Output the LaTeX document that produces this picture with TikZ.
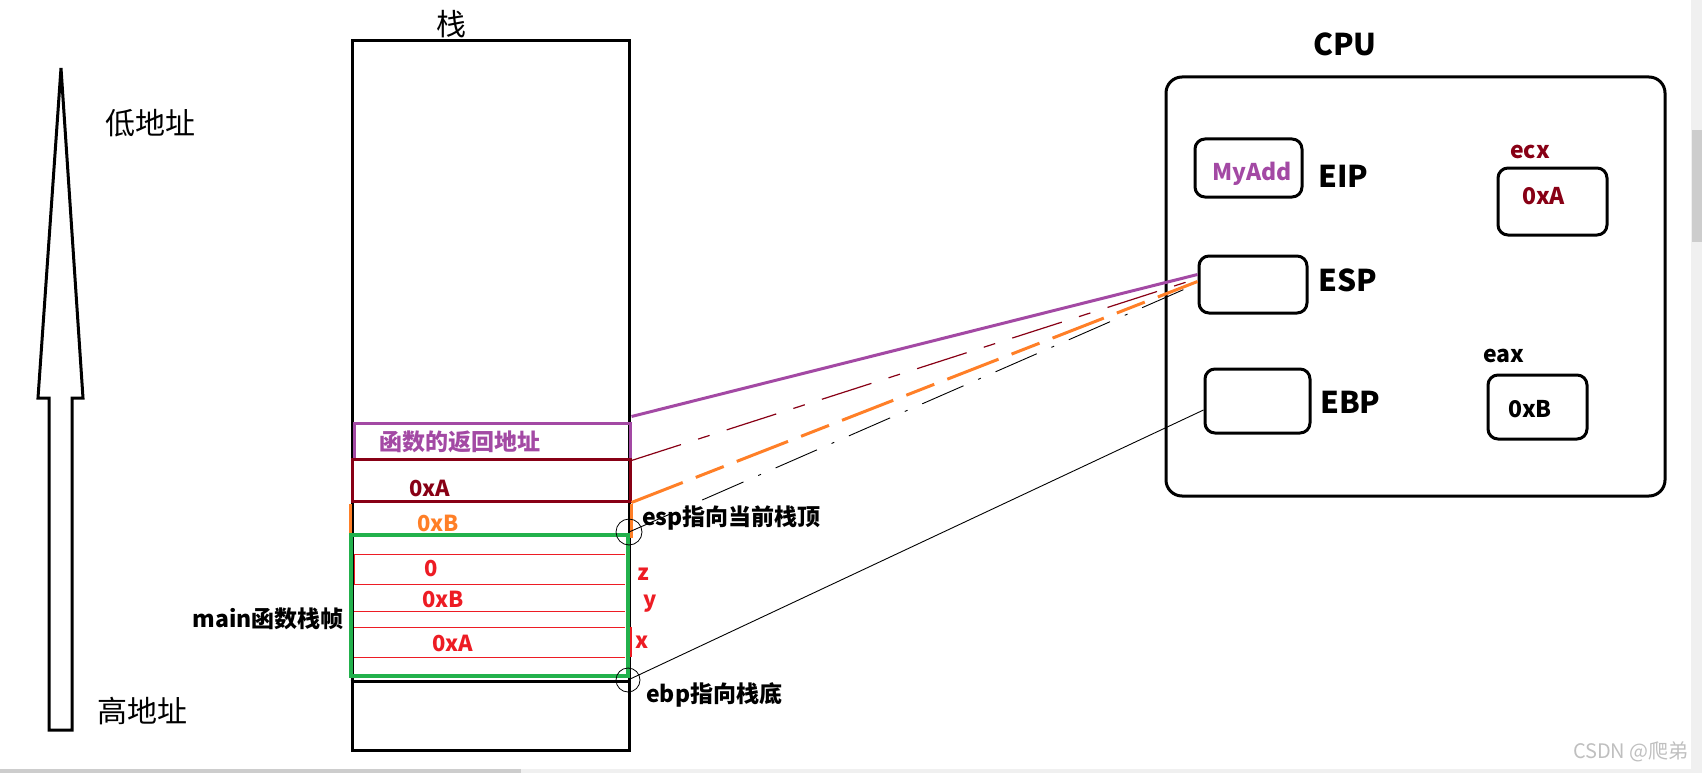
\documentclass[tikz,border=0pt]{standalone}
\usepackage{fontspec}
\setmainfont{Noto Sans CJK SC}
\usetikzlibrary{calc}
\definecolor{ppl}{HTML}{A349A4}
\definecolor{drd}{HTML}{880015}
\definecolor{org}{HTML}{FF7F27}
\definecolor{grn}{HTML}{22B14C}
\definecolor{rd}{HTML}{ED1C24}
\definecolor{sbar}{HTML}{F0F0F0}
\definecolor{sthumb}{HTML}{CDCDCD}
\begin{document}
\begin{tikzpicture}[x=1pt,y=-1pt,
  txt/.style={inner sep=0pt, anchor=base west, font=\fontsize{#1}{#1}\selectfont\bfseries},
  ctxt/.style={inner sep=0pt, anchor=center, font=\fontsize{#1}{#1}\selectfont},
  reg/.style={draw, line width=3pt, rounded corners=10pt, inner sep=0pt},
  cell/.style={draw, inner sep=0pt, line width=3pt},
  ringmark/.style={draw, circle, line width=0.8pt, inner sep=0pt},
]
\useasboundingbox (0,0) rectangle (1702,773);
% window chrome
\fill[sbar] (0,769) rectangle (1691,773);
\fill[sthumb] (0,769) rectangle (521,773);
\fill[sbar] (1691,0) rectangle (1702,773);
\fill[sthumb] (1692,130) rectangle (1702,242);
\node[ctxt=20, text=black!25, anchor=base east] (wm) at (1689,758) {CSDN @爬弟};

% address arrow
\draw[line width=3pt, line join=miter] (49,730) -- (49,398) -- (38,398) -- (61,68) -- (83,398) -- (72,398) -- (72,730) -- cycle;
\node[ctxt=30] (low) at (150,123) {低地址};
\node[ctxt=30] (high) at (142,711) {高地址};

% stack
\node[cell, minimum width=277pt, minimum height=709pt] (stack) at (490.5,395.5) {};
\node[ctxt=30] (stacklbl) at (451,24) {栈};
\draw[line width=3pt] (stack.west |- 0,681) -- (stack.east |- 0,681);

\node[cell, draw=ppl, minimum width=276pt, minimum height=36pt] (ret) at (492,441) {};
\node[cell, draw=drd, minimum width=278pt, minimum height=42pt] (sa) at (491,480) {};
\draw[org, line width=3pt] ([yshift=-1.5pt]sa.south west) -- ++(0,34);
\draw[org, line width=3pt] ([yshift=-1.5pt]sa.south east) -- ++(0,34);

% red rows
\draw[rd, line width=1pt] (354,584) -- (354,554) -- (625,554);
\foreach \yy in {584,611,627,657} \draw[rd, line width=1pt] (354,\yy) -- (625,\yy);
\draw[rd, line width=2pt] (631,627) -- (631,657);

\node[draw=grn, line width=4pt, inner sep=0pt, minimum width=277pt, minimum height=141pt] (main) at (489.5,605.5) {};

\node[txt=23, text=ppl] (rett) at (379,450) {函数的返回地址};
\node[txt=22, text=drd] (sat) at (409,496) {0xA};
\node[txt=22, text=org] (sbt) at (417,531) {0xB};
\node[txt=22, text=rd] (zt) at (424,576) {0};
\node[txt=22, text=rd] (yt) at (422,607) {0xB};
\node[txt=22, text=rd] (xt) at (432,651) {0xA};
\node[txt=22, text=rd] (zl) at (637,580) {z};
\node[txt=22, text=rd] (yl) at (643,607) {y};
\node[txt=22, text=rd] (xl) at (635,648) {x};
\node[txt=23, anchor=base east] (mainl) at (344,627) {main函数栈帧};
\node[txt=23] (espl) at (642,525) {esp指向当前栈顶};
\node[txt=23] (ebpl) at (646,702) {ebp指向栈底};

\node[ringmark, minimum size=26pt] (espc) at (629,532) {};
\node[ringmark, minimum size=24pt] (ebpc) at (628,680) {};

% CPU
\node[draw, line width=3pt, rounded corners=16pt, inner sep=0pt, minimum width=499pt, minimum height=419pt] (cpu) at (1415.5,286.5) {};
\node[txt=30] (cpul) at (1313,56) {CPU};
\node[reg, minimum width=107pt, minimum height=58pt] (eip) at (1248.5,168) {};
\node[reg, minimum width=108pt, minimum height=57pt] (esp) at (1253,284.5) {};
\node[reg, minimum width=105pt, minimum height=64pt] (ebp) at (1257.5,401) {};
\node[reg, minimum width=109pt, minimum height=67pt] (ecx) at (1552.5,201.5) {};
\node[reg, minimum width=99pt, minimum height=64pt] (eax) at (1537.5,407) {};
\node[txt=23, text=ppl] (myadd) at (1212,180) {MyAdd};
\node[txt=30] (eipl) at (1318,187) {EIP};
\node[txt=30] (espt) at (1318,291) {ESP};
\node[txt=30] (ebpt) at (1320,413) {EBP};
\node[txt=23, text=drd] (ecxl) at (1510,158) {ecx};
\node[txt=23, text=drd] (ecxv) at (1522,204) {0xA};
\node[txt=23] (eaxl) at (1483,362) {eax};
\node[txt=23] (eaxv) at (1508,417) {0xB};

% connectors
\draw[ppl, line width=3pt] ([yshift=5pt]ret.north east) -- ([yshift=10pt]esp.west);
\draw[drd, line width=1.2pt, dash pattern=on 52pt off 18pt on 12pt off 18pt] (ret.south east) -- ([yshift=6pt]esp.west);
\draw[org, line width=3pt, dash pattern=on 55pt off 14pt on 30pt off 14pt] (sa.south east) -- ([yshift=3pt]esp.west);
\draw[line width=0.9pt, dash pattern=on 45pt off 16pt on 3pt off 16pt] (espc.center) -- ([yshift=1pt]esp.west);
\draw[line width=0.9pt] (ebpc.center) -- ([yshift=-9pt]ebp.west);
\end{tikzpicture}
\end{document}
